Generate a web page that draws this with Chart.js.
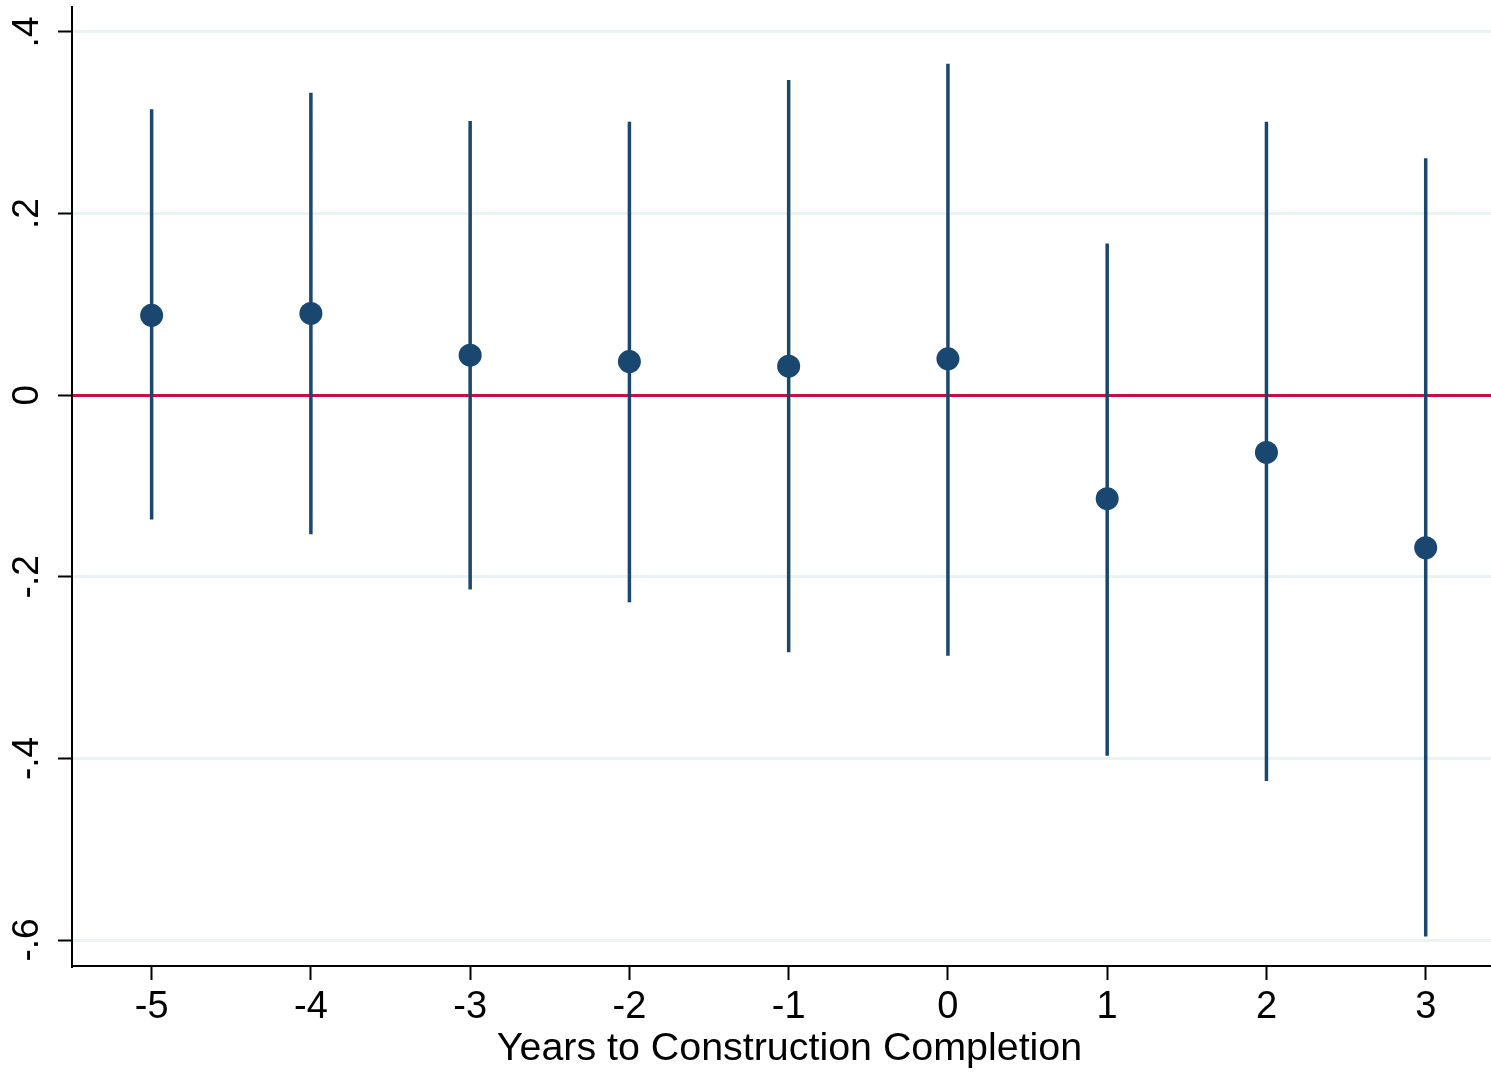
<!DOCTYPE html>
<html>
<head>
<meta charset="utf-8">
<script src="https://cdn.jsdelivr.net/npm/chart.js@4/dist/chart.umd.min.js"></script>
<style>
html,body{margin:0;padding:0;background:#fff;}
#wrap{width:1491px;height:1077px;position:relative;}
</style>
</head>
<body>
<div id="wrap"><canvas id="c" width="1491" height="1077"></canvas></div>
<script>
const years = [-5, -4, -3, -2, -1, 0, 1, 2, 3];
const estimates = [0.088, 0.090, 0.044, 0.037, 0.032, 0.040, -0.114, -0.063, -0.168];
const ciLower = [-0.137, -0.153, -0.214, -0.228, -0.283, -0.287, -0.397, -0.425, -0.596];
const ciUpper = [0.315, 0.333, 0.302, 0.301, 0.347, 0.365, 0.167, 0.301, 0.261];
const xTicks = [-5, -4, -3, -2, -1, 0, 1, 2, 3];
const xTickLabels = ['-5', '-4', '-3', '-2', '-1', '0', '1', '2', '3'];
const yTicks = [-0.6, -0.4, -0.2, 0, 0.2, 0.4];
const yTickLabels = ['-.6', '-.4', '-.2', '0', '.2', '.4'];
const xTitle = 'Years to Construction Completion';

const navy = '#1a476f';
const font = '"Liberation Sans", Arial, Helvetica, sans-serif';

const ciData = [];
years.forEach((x, i) => {
  ciData.push({x: x, y: ciLower[i]});
  ciData.push({x: x, y: ciUpper[i]});
  ciData.push({x: x, y: null});
});

// tick labels and axis title, placed from the chart's own scales
const labelPlugin = {
  id: 'axisLabels',
  afterDraw(chart) {
    const xs = chart.scales.x;
    const ys = chart.scales.y;
    const ctx = chart.ctx;
    ctx.save();
    ctx.fillStyle = '#000';
    ctx.textAlign = 'center';
    ctx.textBaseline = 'middle';
    ctx.font = '37px ' + font;
    yTicks.forEach((v, i) => {
      const py = ys.getPixelForValue(v);
      ctx.save();
      ctx.translate(28, py);
      ctx.rotate(-Math.PI / 2);
      ctx.fillText(yTickLabels[i], 0, 0);
      ctx.restore();
    });
    ctx.textBaseline = 'alphabetic';
    ctx.font = '38px ' + font;
    xTicks.forEach((v, i) => {
      ctx.fillText(xTickLabels[i], xs.getPixelForValue(v), 1018);
    });
    ctx.font = '39.4px ' + font;
    ctx.fillText(xTitle, (xs.left + xs.right) / 2 + 8, 1060);
    ctx.restore();
  }
};

new Chart(document.getElementById('c'), {
  type: 'scatter',
  data: {
    datasets: [
      {
        type: 'line',
        data: ciData,
        borderColor: navy,
        borderWidth: 3.5,
        pointRadius: 0,
        spanGaps: false,
        fill: false,
        order: 2
      },
      {
        data: years.map((x, i) => ({x: x, y: estimates[i]})),
        backgroundColor: navy,
        borderColor: navy,
        pointRadius: 11.5,
        pointHoverRadius: 11.5,
        borderWidth: 0,
        order: 1
      }
    ]
  },
  plugins: [labelPlugin],
  options: {
    responsive: false,
    animation: false,
    events: [],
    layout: {autoPadding: false, padding: {top: 7, right: 0, left: 0, bottom: 0}},
    plugins: {legend: {display: false}, tooltip: {enabled: false}},
    scales: {
      x: {
        type: 'linear',
        min: -5.5,
        max: 3.41,
        afterBuildTicks: s => { s.ticks = xTicks.map(v => ({value: v})); },
        afterFit: s => { s.height = 111; s.paddingLeft = 0; s.paddingRight = 0; },
        grid: {drawOnChartArea: false, tickLength: 14, tickColor: '#000', tickWidth: 2},
        border: {color: '#000', width: 2},
        ticks: {display: false}
      },
      y: {
        type: 'linear',
        min: -0.6286,
        max: 0.4275,
        afterBuildTicks: s => { s.ticks = yTicks.map(v => ({value: v})); },
        afterFit: s => { s.width = 72; s.paddingTop = 0; s.paddingBottom = 0; },
        grid: {
          drawOnChartArea: true,
          color: ctx => (ctx.tick && Math.abs(ctx.tick.value) < 1e-9) ? '#c8103e' : '#eaf2f3',
          lineWidth: 3,
          tickLength: 14,
          tickColor: '#000',
          tickWidth: 2
        },
        border: {color: '#000', width: 2},
        ticks: {display: false}
      }
    }
  }
});
</script>
</body>
</html>
